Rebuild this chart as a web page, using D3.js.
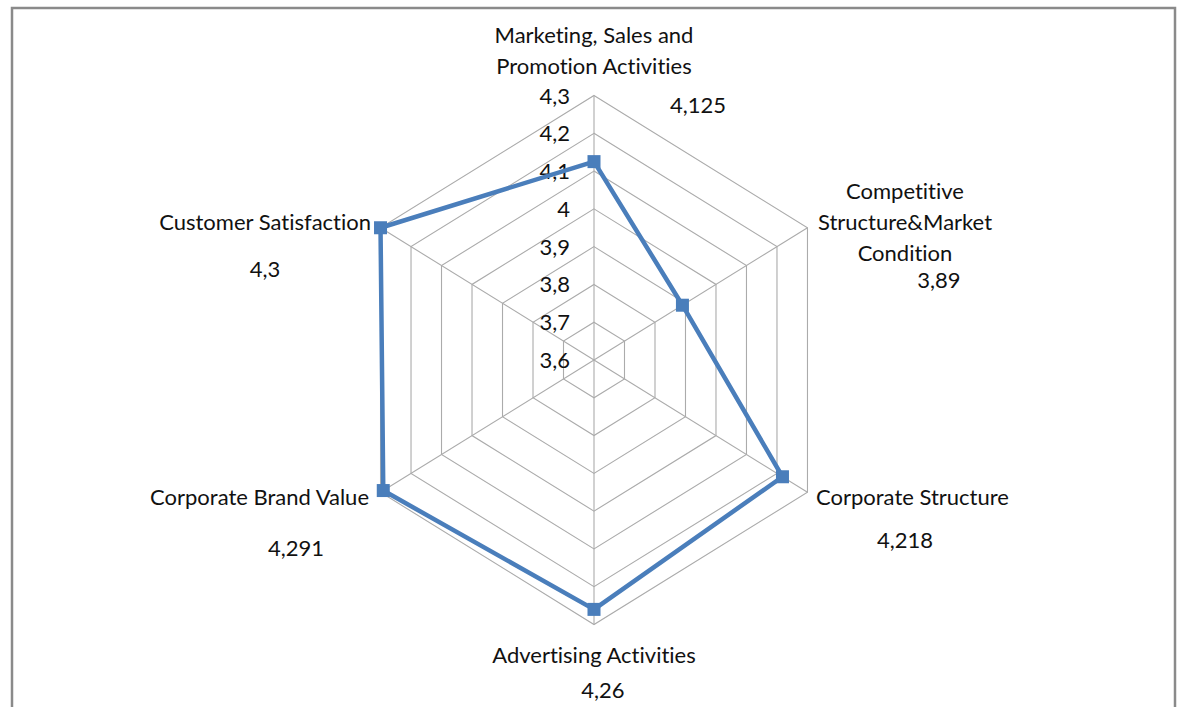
<!DOCTYPE html>
<html>
<head>
<meta charset="utf-8">
<script src="https://cdn.jsdelivr.net/npm/d3@7"></script>
<style>
  html, body { margin: 0; padding: 0; background: #fff; }
  svg text { font-family: Lato, "Liberation Sans", sans-serif; fill: #111; font-variant-ligatures: none; font-feature-settings: "liga" 0; }
</style>
</head>
<body>
<svg id="chart" width="1179" height="707"></svg>
<script>
// Axis categories (each may wrap onto several lines) and their scores
const categories = [
  "Marketing, Sales and|Promotion Activities",
  "Competitive|Structure&Market|Condition",
  "Corporate Structure",
  "Advertising Activities",
  "Corporate Brand Value",
  "Customer Satisfaction"
];
const values = [4.125, 3.89, 4.218, 4.26, 4.291, 4.3];
const valueLabels = ["4,125", "3,89", "4,218", "4,26", "4,291", "4,3"];
const ticks = [3.6, 3.7, 3.8, 3.9, 4.0, 4.1, 4.2, 4.3];
const tickLabels = ["3,6", "3,7", "3,8", "3,9", "4", "4,1", "4,2", "4,3"];

const svg = d3.select("#chart");
const cx = 594, cy = 360;
const RX = 246.5, RY = 264.5;   // plot area is slightly narrower than tall
const fontSize = 22;
const lineColor = "#4a7ebb";

// outer frame
svg.append("rect")
  .attr("x", 12).attr("y", 8).attr("width", 1163).attr("height", 720)
  .attr("fill", "none").attr("stroke", "#8a8a8a").attr("stroke-width", 2.5);

const r = d3.scaleLinear().domain([3.6, 4.3]).range([0, 1]);
const angle = d3.scaleLinear().domain([0, categories.length]).range([0, 2 * Math.PI]);

function pt(i, v) {
  const a = angle(i), f = r(v);
  return [cx + f * RX * Math.sin(a), cy - f * RY * Math.cos(a)];
}

const grid = svg.append("g").attr("fill", "none").attr("stroke", "#ababab").attr("stroke-width", 1.1);

// concentric hexagonal rings
ticks.slice(1).forEach(t => {
  const pts = categories.map((c, i) => pt(i, t));
  grid.append("path").attr("d", d3.line()(pts) + "Z");
});
// spokes
categories.forEach((c, i) => {
  const [x, y] = pt(i, 4.3);
  grid.append("line").attr("x1", cx).attr("y1", cy).attr("x2", x).attr("y2", y);
});

// value axis tick labels along the top spoke
svg.append("g").selectAll("text").data(ticks).join("text")
  .attr("x", cx - 24)
  .attr("y", t => pt(0, t)[1] + 8)
  .attr("text-anchor", "end")
  .attr("font-size", fontSize)
  .text((t, i) => tickLabels[i]);

// series line
const seriesPts = values.map((v, i) => pt(i, v));
svg.append("path")
  .attr("d", d3.line()(seriesPts) + "Z")
  .attr("fill", "none")
  .attr("stroke", lineColor)
  .attr("stroke-width", 4.5)
  .attr("stroke-linejoin", "round");

// square markers
svg.append("g").selectAll("rect").data(seriesPts).join("rect")
  .attr("x", d => d[0] - 6.5).attr("y", d => d[1] - 6.5)
  .attr("width", 13).attr("height", 13)
  .attr("fill", lineColor);

// category labels (anchor, first baseline) per axis
const catPos = [
  { x: 594, y: 43, anchor: "middle" },
  { x: 905, y: 199, anchor: "middle" },
  { x: 816, y: 505, anchor: "start" },
  { x: 594, y: 663, anchor: "middle" },
  { x: 369, y: 505, anchor: "end" },
  { x: 371, y: 230, anchor: "end" }
];
const valPos = [
  { x: 698, y: 113 },
  { x: 939, y: 288 },
  { x: 905, y: 548 },
  { x: 603, y: 698 },
  { x: 296, y: 556 },
  { x: 265, y: 277 }
];

categories.forEach((c, i) => {
  const t = svg.append("text")
    .attr("text-anchor", catPos[i].anchor)
    .attr("font-size", fontSize);
  c.split("|").forEach((line, k) => {
    t.append("tspan").attr("x", catPos[i].x).attr("y", catPos[i].y + k * 31).text(line);
  });
  svg.append("text")
    .attr("x", valPos[i].x).attr("y", valPos[i].y)
    .attr("text-anchor", "middle")
    .attr("font-size", fontSize)
    .text(valueLabels[i]);
});
</script>
</body>
</html>
